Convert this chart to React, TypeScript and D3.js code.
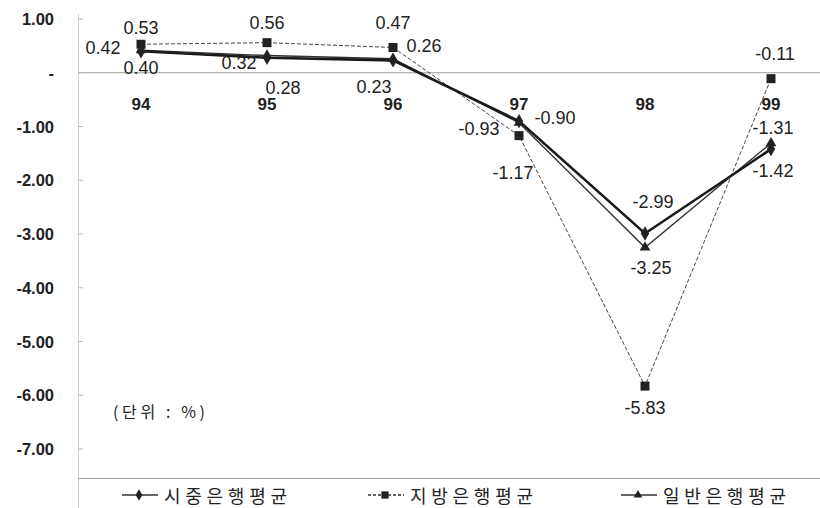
import React from "react";
import * as d3 from "d3";

// Bank ROA averages by year (unit: %)
const years = ["94", "95", "96", "97", "98", "99"];
const commercialAvg = [0.40, 0.28, 0.23, -0.90, -2.99, -1.42]; // 시중은행평균
const regionalAvg = [0.53, 0.56, 0.47, -1.17, -5.83, -0.11]; // 지방은행평균
const generalAvg = [0.42, 0.32, 0.26, -0.93, -3.25, -1.31]; // 일반은행평균
const yTicks = [1, 0, -1, -2, -3, -4, -5, -6, -7];

// Value label offsets (dx, dy) from each point
const commercialLabelOffsets: [number, number][] = [[0, 17], [16, 30], [-19, 27], [36, -3], [8, -31], [2, 22]];
const regionalLabelOffsets: [number, number][] = [[0, -16], [0, -20], [0, -24], [-6, 37], [0, 22], [4, -25]];
const generalLabelOffsets: [number, number][] = [[-38, -2], [-28, 7], [31, -13], [-40, 6], [6, 21], [2, -15]];

const W = 820;
const H = 508;
const latin = "'Liberation Sans', Arial, sans-serif";
const hangul = "'Noto Sans CJK KR', 'Liberation Sans', sans-serif";
const ink = "#222";

const x = d3.scalePoint<string>().domain(years).range([141, 771]);
const y = d3.scaleLinear().domain([-7, 1]).range([449, 19]);
const fmt = (v: number) => v.toFixed(2);
const tickFmt = (v: number) => (v === 0 ? "-" : v.toFixed(2));

type Marker = "diamond" | "square" | "triangle";

function MarkerShape({ kind, cx, cy, scale = 1 }: { kind: Marker; cx: number; cy: number; scale?: number }) {
  if (kind === "diamond") {
    const p = d3.symbol(d3.symbolDiamond, 60 * scale * scale)();
    return <path d={p || ""} transform={`translate(${cx},${cy})`} fill={ink} />;
  }
  if (kind === "square") {
    const s = 9 * scale;
    return <rect x={cx - s / 2} y={cy - s / 2} width={s} height={s} fill={ink} />;
  }
  const t = d3.symbol(d3.symbolTriangle, 50 * scale * scale)();
  return <path d={t || ""} transform={`translate(${cx},${cy})`} fill={ink} />;
}

const series = [
  { name: "지방은행평균", values: regionalAvg, marker: "square" as Marker, width: 1, dash: "4,2", color: "#444", offsets: regionalLabelOffsets },
  { name: "일반은행평균", values: generalAvg, marker: "triangle" as Marker, width: 1.4, dash: "", color: "#333", offsets: generalLabelOffsets },
  { name: "시중은행평균", values: commercialAvg, marker: "diamond" as Marker, width: 2.6, dash: "", color: "#1a1a1a", offsets: commercialLabelOffsets },
];

const legendItems = [
  { name: "시중은행평균", marker: "diamond" as Marker, x: 122, dash: "" },
  { name: "지방은행평균", marker: "square" as Marker, x: 368, dash: "3,2" },
  { name: "일반은행평균", marker: "triangle" as Marker, x: 621, dash: "" },
];

export default function App() {
  const line = d3
    .line<number>()
    .x((_, i) => x(years[i]) as number)
    .y((d) => y(d));

  return (
    <svg width={W} height={H} style={{ position: "absolute", left: 0, top: 0, background: "#fff" }}>
      <rect width={W} height={H} fill="#fff" />

      {/* plot frame */}
      <line x1={78.5} x2={78.5} y1={14} y2={H} stroke="#d0d0d0" strokeWidth={1} />
      <line x1={78} x2={W} y1={478.5} y2={478.5} stroke="#9aa59a" strokeWidth={1.2} />
      <line x1={78} x2={W} y1={y(0)} y2={y(0)} stroke="#8fa08f" strokeWidth={1} />

      {/* y axis */}
      {yTicks.map((t) => (
        <g key={t}>
          <line x1={78} x2={83} y1={y(t)} y2={y(t)} stroke="#bbb" />
          <text
            x={54}
            y={y(t)}
            textAnchor="end"
            dominantBaseline="central"
            fontFamily={latin}
            fontWeight="bold"
            fontSize={16.5}
            fill={ink}
          >
            {tickFmt(t)}
          </text>
        </g>
      ))}

      {/* category labels */}
      {years.map((yr) => (
        <text
          key={yr}
          x={x(yr)}
          y={104}
          textAnchor="middle"
          dominantBaseline="central"
          fontFamily={latin}
          fontWeight="bold"
          fontSize={17}
          fill={ink}
        >
          {yr}
        </text>
      ))}

      {/* series lines */}
      {series.map((s) => (
        <path
          key={s.name}
          d={line(s.values) || ""}
          fill="none"
          stroke={s.color}
          strokeWidth={s.width}
          strokeDasharray={s.dash || undefined}
        />
      ))}

      {/* markers */}
      {series.map((s) =>
        s.values.map((v, i) => (
          <MarkerShape key={s.name + i} kind={s.marker} cx={x(years[i]) as number} cy={y(v)} />
        ))
      )}

      {/* value labels */}
      {series.map((s) =>
        s.values.map((v, i) => (
          <text
            key={"l" + s.name + i}
            x={(x(years[i]) as number) + s.offsets[i][0]}
            y={y(v) + s.offsets[i][1]}
            textAnchor="middle"
            dominantBaseline="central"
            fontFamily={latin}
            fontSize={18}
            fill={ink}
          >
            {fmt(v)}
          </text>
        ))
      )}

      {/* unit note */}
      <text
        x={113}
        y={411}
        dominantBaseline="central"
        fontFamily={hangul}
        fontSize={16}
        textLength={92}
        lengthAdjust="spacing"
        fill={ink}
      >
        (단위 : %)
      </text>

      {/* legend */}
      {legendItems.map((it) => (
        <g key={it.name}>
          <line
            x1={it.x}
            x2={it.x + 36}
            y1={495}
            y2={495}
            stroke="#333"
            strokeWidth={1.3}
            strokeDasharray={it.dash || undefined}
          />
          <MarkerShape kind={it.marker} cx={it.x + 17} cy={495} scale={0.8} />
          <text
            x={it.x + 42}
            y={495}
            dominantBaseline="central"
            fontFamily={hangul}
            fontSize={18}
            textLength={123}
            lengthAdjust="spacing"
            fill={ink}
          >
            {it.name}
          </text>
        </g>
      ))}
    </svg>
  );
}
